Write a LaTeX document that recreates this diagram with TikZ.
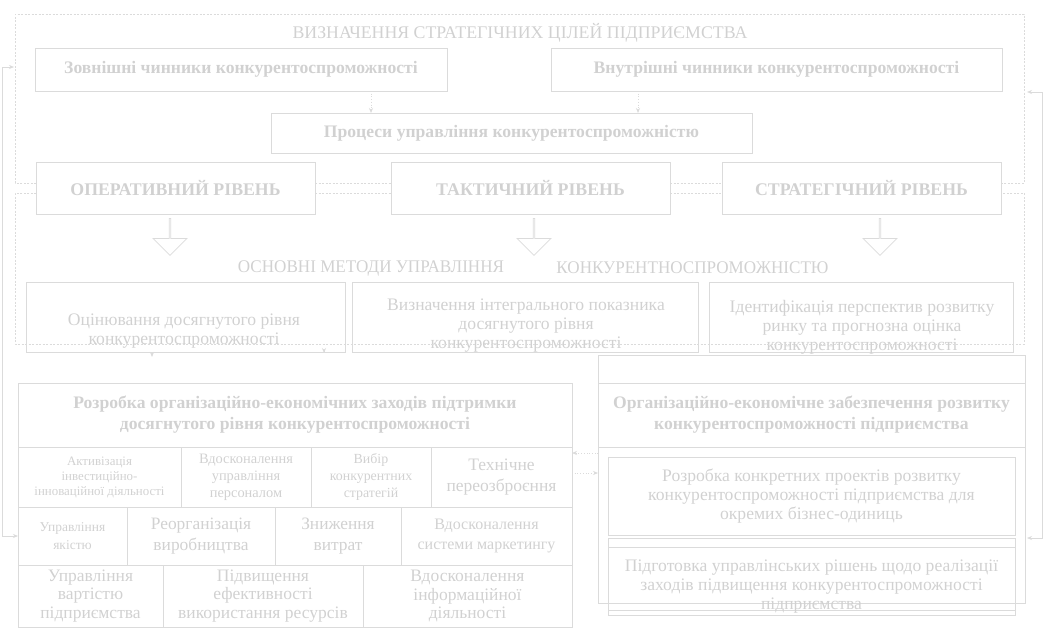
\documentclass[tikz,border=0pt]{standalone}
\usepackage{fontspec}
\setmainfont{Liberation Serif}
\newfontfamily\narrowfont{Liberation Serif}[FakeStretch=0.96]
\usetikzlibrary{shapes.arrows, arrows.meta, positioning, calc}
\definecolor{linegray}{gray}{0.86}
\definecolor{textgray}{gray}{0.82}
\newcommand{\fsz}[2]{\fontsize{#1}{#2}\selectfont}

\begin{document}
\begin{tikzpicture}[
    x=1pt, y=-1pt,
    >={Stealth[length=5pt,width=4pt]},
    box/.style={rectangle, draw=linegray, line width=0.8pt, inner sep=0pt, outer sep=0pt, align=center, text=textgray},
    head/.style={box, font=\bfseries\fsz{17.6}{21}},
    tier/.style={box, minimum width=279pt, minimum height=52pt, font=\bfseries\fsz{17.8}{20}},
    cell/.style={box, font=\fsz{17.5}{18.5}},
    txt/.style={text=textgray, align=center, inner sep=0pt, font=\fsz{17.6}{19}},
    dashframe/.style={draw=linegray, line width=0.8pt, dash pattern=on 2pt off 1.5pt},
    arrow/.style={->, draw=linegray, line width=0.7pt},
    bigarrow/.style={single arrow, draw=linegray, line width=0.8pt, minimum width=34pt, minimum height=37pt, single arrow head extend=8pt, inner sep=0pt, shape border rotate=270}
]
    \useasboundingbox (0,0) rectangle (1062,632);

    % Strategic goals
    \node[txt, font=\fsz{17.8}{20}] (goals) at (520,33) {ВИЗНАЧЕННЯ СТРАТЕГІЧНИХ ЦІЛЕЙ ПІДПРИЄМСТВА};
    \node[head, minimum width=412pt, minimum height=43pt] (ext) at (241,69.5) {Зовнішні чинники конкурентоспроможності};
    \node[head, minimum width=451pt, minimum height=43pt] (int) at (776.5,69.5) {Внутрішні чинники конкурентоспроможності};
    \node[head, minimum width=481pt, minimum height=40pt] (proc) at (511.5,133) {Процеси управління конкурентоспроможністю};

    % Levels
    \node[tier] (oper) at (175.5,188) {ОПЕРАТИВНИЙ РІВЕНЬ};
    \node[tier, right=76pt of oper] (tact) {ТАКТИЧНИЙ РІВЕНЬ};
    \node[tier, right=52pt of tact] (strat) {СТРАТЕГІЧНИЙ РІВЕНЬ};

    \node[bigarrow] (down1) at (170,236.5) {};
    \node[bigarrow] (down2) at (534,236.5) {};
    \node[bigarrow] (down3) at (880,236.5) {};

    % Methods
    \node[txt, font=\narrowfont\fsz{17.8}{19}] (mtitle1) at (371,268) {ОСНОВНІ МЕТОДИ УПРАВЛІННЯ};
    \node[txt, font=\narrowfont\fsz{17.8}{19}] (mtitle2) at (692.5,268) {КОНКУРЕНТНОСПРОМОЖНІСТЮ};

    \node[box, minimum width=319pt, minimum height=70pt] (meth1) at (185.5,317) {};
    \node[box, minimum width=346pt, minimum height=70pt] (meth2) at (525,317) {};
    \node[box, minimum width=304pt, minimum height=70pt] (meth3) at (861,317) {};
    \node[txt] (meth1txt) at (184,331) {Оцінювання досягнутого рівня\\конкурентоспроможності};
    \node[txt] (meth2txt) at (526,326) {Визначення інтегрального показника\\досягнутого рівня\\конкурентоспроможності};
    \node[txt] (meth3txt) at (862,327) {Ідентифікація перспектив розвитку\\ринку та прогнозна оцінка\\конкурентоспроможності};
    \coordinate (stub1) at (152,357);
    \coordinate (stub2) at (324,353);

    % Support measures
    \node[head, minimum width=554pt, minimum height=64pt, anchor=north west] (dev) at (18,383) {Розробка організаційно-економічних заходів підтримки\\досягнутого рівня конкурентоспроможності};

    \node[cell, minimum width=163pt, minimum height=60pt, anchor=north west, font=\fsz{12.9}{15}] (invest) at (dev.south west) {Активізація\\інвестиційно-\\інноваційної діяльності};
    \node[cell, minimum width=130pt, minimum height=60pt, right=0pt of invest, font=\fsz{14.4}{17}] (staff) {Вдосконалення\\управління\\персоналом};
    \node[cell, minimum width=120pt, minimum height=60pt, right=0pt of staff, font=\fsz{13.9}{17}] (choice) {Вибір\\конкурентних\\стратегій};
    \node[cell, minimum width=141pt, minimum height=60pt, right=0pt of choice, font=\fsz{17.5}{21}] (rearm) {Технічне\\переозброєння};

    \node[cell, minimum width=109pt, minimum height=58pt, anchor=north west, font=\fsz{13.5}{18}] (qual) at (invest.south west) {Управління\\якістю};
    \node[cell, minimum width=148pt, minimum height=58pt, right=0pt of qual, font=\fsz{17.4}{21}] (reorg) {Реорганізація\\виробництва};
    \node[cell, minimum width=126pt, minimum height=58pt, right=0pt of reorg, font=\fsz{17.4}{21}] (costs) {Зниження\\витрат};
    \node[cell, minimum width=171pt, minimum height=58pt, right=0pt of costs, font=\fsz{16}{20}] (market) {Вдосконалення\\системи маркетингу};

    \node[cell, minimum width=145pt, minimum height=62pt, anchor=north west] (value) at (qual.south west) {Управління\\вартістю\\підприємства};
    \node[cell, minimum width=200pt, minimum height=62pt, right=0pt of value] (effic) {Підвищення\\ефективності\\використання ресурсів};
    \node[cell, minimum width=209pt, minimum height=62pt, right=0pt of effic] (info) {Вдосконалення\\інформаційної\\діяльності};

    % Organisational support
    \node[box, minimum width=427pt, minimum height=248pt, anchor=north west] (orgbox) at (598,355) {};
    \node[head, minimum width=427pt, minimum height=64pt, anchor=north west] (orghead) at (598,383) {Організаційно-економічне забезпечення розвитку\\конкурентоспроможності підприємства};
    \node[cell, minimum width=407pt, minimum height=78pt, anchor=north west, font=\fsz{17.6}{19}] (proj) at (608,457) {Розробка конкретних проектів розвитку\\конкурентоспроможності підприємства для\\окремих бізнес-одиниць};
    \node[box, minimum width=407pt, minimum height=63pt, anchor=north west] (prep) at (608,547) {};
    \node[txt] (preptxt) at (811.5,587) {Підготовка управлінських рішень щодо реалізації\\заходів підвищення конкурентоспроможності\\підприємства};
    \draw[linegray, line width=0.8pt] ([yshift=9pt]prep.north west) rectangle ([yshift=-5pt]prep.south east);

    \coordinate (leftin) at (14,67);
    \coordinate (rightin) at (1027,92);

    % Frames
    \draw[dashframe] ([yshift=5pt]oper.west) -- ++(-21,0) |- (1024,14) |- ([yshift=5pt]strat.east);
    \draw[dashframe] ([yshift=5pt]oper.east) -- ([yshift=5pt]tact.west);
    \draw[dashframe] ([yshift=5pt]tact.east) -- ([yshift=5pt]strat.west);
    \draw[dashframe] ([yshift=-5pt]oper.west) -- ++(-21,0) |- (1024,344) |- ([yshift=-5pt]strat.east);
    \draw[dashframe] ([yshift=-5pt]oper.east) -- ([yshift=-5pt]tact.west);
    \draw[dashframe] ([yshift=-5pt]tact.east) -- ([yshift=-5pt]strat.west);

    % Arrows
    \draw[arrow, dotted] ([xshift=130pt]ext.south) -- ([xshift=130pt]ext.south |- proc.north);
    \draw[arrow, dotted] ([xshift=-138.5pt]int.south) -- ([xshift=-138.5pt]int.south |- proc.north);
    \draw[arrow] ([xshift=-33.5pt]meth1.south) -- (stub1);
    \draw[arrow] ([xshift=138.5pt]meth1.south) -- (stub2);
    \draw[arrow, dotted] (orgbox.west |- 0,453) -- (dev.east |- 0,453);
    \draw[arrow, dotted] (dev.east |- 0,473) -- (orgbox.west |- 0,473);
    \draw[arrow, <->] (qual.west) -- ++(-16,0) |- (leftin);
    \draw[arrow, <->] ([xshift=2pt]orgbox.east |- 0,538) -- ++(15,0) |- (rightin);

\end{tikzpicture}
\end{document}
